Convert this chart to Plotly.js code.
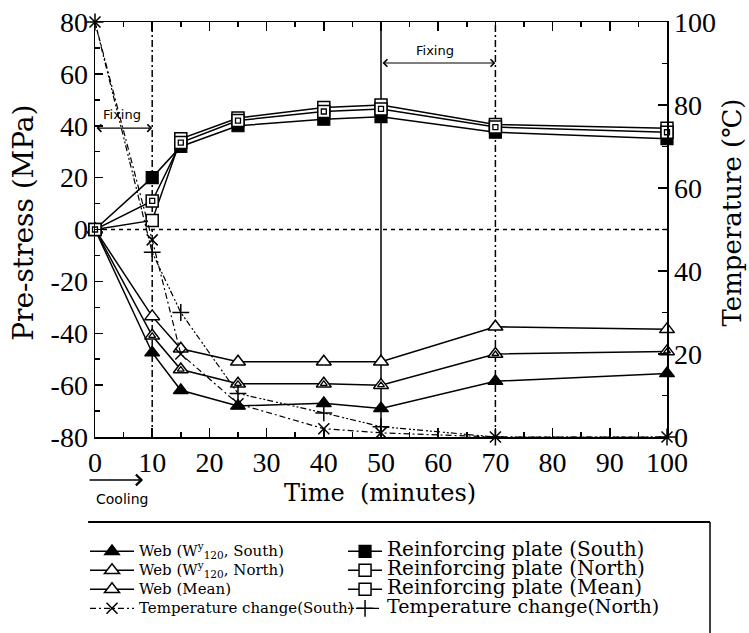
<!DOCTYPE html>
<html><head><meta charset="utf-8">
<script src="https://cdn.plot.ly/plotly-3.0.1.min.js"></script>
<style>html,body{margin:0;padding:0;background:#fff}#chart{width:749px;height:633px}</style>
</head><body><div id="chart"></div>
<script>
// time (minutes)
const time = [0, 10, 15, 25, 40, 50, 70, 100];
// pre-stress (MPa)
const webSouth   = [0, -47.5, -62, -68, -67, -69, -58.5, -55.5];
const webNorth   = [0, -33.5, -46, -51, -51, -51, -37.5, -38.5];
const webMean    = [0, -41, -54, -59.5, -59.5, -60, -48, -47];
const plateSouth = [0, 20, 32, 40, 42.5, 43.5, 37.5, 35];
const plateNorth = [0, 3.5, 35, 43, 47, 48, 40.5, 39];
const plateMean  = [0, 11, 33.5, 42, 45.5, 46.5, 39.5, 37.5];
// temperature (°C)
const tempSouth  = [100, 47.5, 20, 8, 2, 1, 0, 0];
const tempNorth  = [100, 44.5, 30, 10.5, 5.8, 2.5, 0, 0];
// ticks
const xTicks = [0, 10, 20, 30, 40, 50, 60, 70, 80, 90, 100];
const stressTicks = [-80, -60, -40, -20, 0, 20, 40, 60, 80];
const tempTicks = [0, 20, 40, 60, 80, 100];
// reference marks
const fixStart1 = 0, fixEnd1 = 10, fixStart2 = 50, fixEnd2 = 70;

const L1 = s => '<span style="font-size:15px">' + s + '</span>';
const L2 = s => '<span style="font-size:20px">' + s + '</span>';
const L2b = s => '<span style="font-size:19px">' + s + '</span>';
const lineW = 1.5;
const blk = '#000';

function series(y, name, legend, marker, extra) {
  return Object.assign({
    x: time, y: y, name: name, legend: legend, type: 'scatter', mode: 'lines+markers',
    line: {color: blk, width: lineW}, marker: marker, cliponaxis: false
  }, extra || {});
}
const triFilled = {symbol: 'triangle-up', size: 13, color: blk, line: {color: blk, width: 1.2}};
const triOpen = {symbol: 'triangle-up', size: 13, color: '#fff', line: {color: blk, width: 1.5}};
const triInner = {symbol: 'triangle-up', size: 6, color: '#fff', line: {color: blk, width: 1.3}};
const sqFilled = {symbol: 'square', size: 12, color: blk, line: {color: blk, width: 1.2}};
const sqOpen = {symbol: 'square', size: 12, color: '#fff', line: {color: blk, width: 1.5}};
const sqInner = {symbol: 'square', size: 5, color: '#fff', line: {color: blk, width: 1.3}};

const traces = [
  series(webSouth, L1('Web (W<sup>y</sup><sub>120</sub>, South)'), 'legend', triFilled),
  series(webNorth, L1('Web (W<sup>y</sup><sub>120</sub>, North)'), 'legend', triOpen),
  series(webMean, L1('Web (Mean)'), 'legend', triOpen),
  series(webMean, 'Web (Mean) inner', 'legend', triInner, {mode: 'markers', showlegend: false}),
  series(tempSouth, L1('Temperature change(South)'), 'legend',
    {symbol: 'x-thin-open', size: 11, color: blk, line: {color: blk, width: 1.5}},
    {yaxis: 'y2', line: {color: blk, width: 1.2, dash: '6px,3px,2px,3px'}}),
  series(plateSouth, L2('Reinforcing plate (South)'), 'legend2', sqFilled),
  series(plateNorth, L2('Reinforcing plate (North)'), 'legend2', sqOpen),
  series(plateMean, L2('Reinforcing plate (Mean)'), 'legend2', sqOpen),
  series(plateMean, 'Reinforcing plate (Mean) inner', 'legend2', sqInner, {mode: 'markers', showlegend: false}),
  series(tempNorth, L2b('Temperature change(North)'), 'legend2',
    {symbol: 'cross-thin-open', size: 12, color: blk, line: {color: blk, width: 1.5}},
    {yaxis: 'y2', line: {color: blk, width: 1.2, dash: '2px,2px,2px,2px,6px,3px'}})
];

const tickFont = {family: 'Liberation Serif', size: 28, color: blk};
const legendBase = {
  xref: 'container', yref: 'container', xanchor: 'left', yanchor: 'top',
  y: 0.152, bgcolor: 'rgba(0,0,0,0)', borderwidth: 0, itemwidth: 44, tracegroupgap: 0,
  font: {family: 'DejaVu Serif', size: 12, color: blk}
};

const arrowFont = {family: 'DejaVu Sans', size: 13, color: blk};
const layout = {
  width: 749, height: 633,
  margin: {l: 95, r: 82, t: 22, b: 196, autoexpand: false},
  paper_bgcolor: '#fff', plot_bgcolor: 'rgba(0,0,0,0)',
  showlegend: true,
  xaxis: {
    range: [0, 100], tickmode: 'array', tickvals: xTicks, ticktext: xTicks.map(String),
    ticks: 'inside', ticklen: 9, tickwidth: 1.5, tickcolor: blk,
    minor: {tickmode: 'linear', tick0: 0, dtick: 5, ticks: 'inside', ticklen: 5, tickwidth: 1.5, tickcolor: blk},
    showline: true, linecolor: blk, linewidth: 1.5, mirror: 'ticks',
    showgrid: false, zeroline: false, tickfont: tickFont, automargin: false
  },
  yaxis: {
    range: [-80, 80], tickmode: 'array', tickvals: stressTicks, ticktext: stressTicks.map(String),
    ticks: 'inside', ticklen: 8, tickwidth: 1.5, tickcolor: blk,
    minor: {tickmode: 'linear', tick0: 0, dtick: 10, ticks: 'inside', ticklen: 5, tickwidth: 1.5, tickcolor: blk},
    showline: true, linecolor: blk, linewidth: 1.5, mirror: false,
    showgrid: false, zeroline: false, tickfont: tickFont, automargin: false
  },
  yaxis2: {
    overlaying: 'y', side: 'right',
    range: [0, 100], tickmode: 'array', tickvals: tempTicks, ticktext: tempTicks.map(String),
    ticks: 'inside', ticklen: 9, tickwidth: 1.5, tickcolor: blk,
    minor: {tickmode: 'linear', tick0: 0, dtick: 10, ticks: 'inside', ticklen: 5, tickwidth: 1.5, tickcolor: blk},
    showline: true, linecolor: blk, linewidth: 1.5,
    showgrid: false, zeroline: false, tickfont: tickFont, automargin: false
  },
  legend: Object.assign({}, legendBase, {x: 0.1135}),
  legend2: Object.assign({}, legendBase, {x: 0.458, itemwidth: 34}),
  shapes: [
    {type: 'line', xref: 'paper', yref: 'y', x0: 0, x1: 1, y0: 0, y1: 0, layer: 'below',
     line: {color: blk, width: 1.5, dash: '4px,4px'}},
    {type: 'line', xref: 'x', yref: 'paper', x0: fixEnd1, x1: fixEnd1, y0: 0, y1: 1, layer: 'below',
     line: {color: blk, width: 1.5, dash: '7px,3px,2px,3px'}},
    {type: 'line', xref: 'x', yref: 'paper', x0: fixStart2, x1: fixStart2, y0: 0, y1: 1, layer: 'below',
     line: {color: blk, width: 1.5}},
    {type: 'line', xref: 'x', yref: 'paper', x0: fixEnd2, x1: fixEnd2, y0: 0, y1: 1, layer: 'below',
     line: {color: blk, width: 1.5, dash: '7px,3px,2px,3px'}},
    // legend frame
    {type: 'line', xref: 'paper', yref: 'paper', x0: -0.012, x1: 1.0752, y0: -0.2048, y1: -0.2048,
     line: {color: blk, width: 2}},
    {type: 'line', xref: 'paper', yref: 'paper', x0: 1.0752, x1: 1.0752, y0: -0.2048, y1: -0.53,
     line: {color: blk, width: 1.5}}
  ],
  annotations: [
    // axis titles
    {xref: 'paper', yref: 'paper', x: 0.498, y: -0.135, text: 'Time\u00a0\u00a0(minutes)', showarrow: false,
     font: {family: 'DejaVu Serif', size: 24, color: blk}, xanchor: 'center', yanchor: 'middle'},
    {xref: 'paper', yref: 'paper', x: -0.125, y: 0.515, text: 'Pre-stress (MPa)', showarrow: false,
     textangle: -90, font: {family: 'DejaVu Serif', size: 28, color: blk}, xanchor: 'center', yanchor: 'middle'},
    {xref: 'paper', yref: 'paper', x: 1.113, y: 0.54, text: 'Temperature (\u2103)', showarrow: false,
     textangle: -90, font: {family: 'DejaVu Serif', size: 26, color: blk}, xanchor: 'center', yanchor: 'middle'},
    // fixing / cooling marks
    {xref: 'x', yref: 'y', x: 4.7, y: 44.5, text: 'Fixing', showarrow: false, font: arrowFont},
    {xref: 'x', yref: 'y', x: fixEnd1, y: 39.1, axref: 'x', ayref: 'y', ax: fixStart1, ay: 39.1, text: '',
     showarrow: true, arrowside: 'end+start', arrowhead: 4, startarrowhead: 4, arrowsize: 1.2, startarrowsize: 1.2, arrowwidth: 1.2, arrowcolor: blk},
    {xref: 'x', yref: 'y', x: 59.5, y: 69.2, text: 'Fixing', showarrow: false, font: arrowFont},
    {xref: 'x', yref: 'y', x: fixEnd2, y: 64.2, axref: 'x', ayref: 'y', ax: fixStart2, ay: 64.2, text: '',
     showarrow: true, arrowside: 'end+start', arrowhead: 4, startarrowhead: 4, arrowsize: 1.2, startarrowsize: 1.2, arrowwidth: 1.2, arrowcolor: blk},
    {xref: 'x', yref: 'paper', x: 8.4, y: -0.1036, ax: -55, ay: 0, text: '',
     showarrow: true, arrowhead: 4, arrowsize: 1.4, arrowwidth: 1.5, arrowcolor: blk},
    {xref: 'x', yref: 'paper', x: 4.7, y: -0.149, text: 'Cooling', showarrow: false, yanchor: 'middle',
     font: {family: 'DejaVu Sans', size: 14, color: blk}}
  ]
};

Plotly.newPlot('chart', traces, layout, {staticPlot: true, displayModeBar: false});
</script>
</body></html>
